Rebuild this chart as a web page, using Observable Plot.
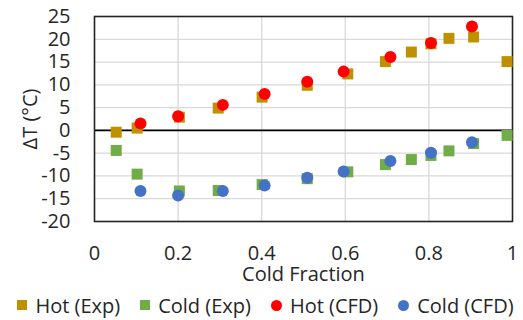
<!DOCTYPE html>
<html>
<head>
<meta charset="utf-8">
<script src="https://cdn.jsdelivr.net/npm/d3@7"></script>
<script src="https://cdn.jsdelivr.net/npm/@observablehq/plot@0.6"></script>
<style>
  html, body { margin: 0; padding: 0; background: #fff; }
  body { width: 523px; height: 320px; overflow: hidden; font-family: "Open Sans", sans-serif; color: #262626; }
  #legend { display: flex; justify-content: center; align-items: center; height: 30px; font-size: 20px; white-space: nowrap; padding-left: 8px; }
  .item { display: flex; align-items: center; margin: 0 10px; }
  .sw { display: inline-block; width: 10px; height: 10px; margin-right: 8px; }
  .circ { border-radius: 50%; width: 11px; height: 11px; }
</style>
</head>
<body>
<div id="chart"></div>
<div id="legend"></div>
<script>
const seriesNames = ["Hot (Exp)", "Cold (Exp)", "Hot (CFD)", "Cold (CFD)"];
const seriesColors = ["#BF9000", "#70AD47", "#FF0000", "#4472C4"];

const hotExpX = [0.052, 0.102, 0.203, 0.296, 0.401, 0.509, 0.606, 0.696, 0.758, 0.805, 0.848, 0.907, 0.987];
const hotExpY = [-0.4, 0.5, 2.9, 4.9, 7.3, 9.9, 12.4, 15.1, 17.2, 19.0, 20.2, 20.5, 15.1];

const coldExpX = [0.052, 0.102, 0.203, 0.296, 0.401, 0.509, 0.606, 0.696, 0.758, 0.805, 0.848, 0.907, 0.987];
const coldExpY = [-4.4, -9.6, -13.3, -13.2, -11.9, -10.6, -9.1, -7.5, -6.4, -5.5, -4.5, -2.9, -1.1];

const hotCfdX = [0.110, 0.200, 0.307, 0.407, 0.509, 0.596, 0.708, 0.805, 0.903];
const hotCfdY = [1.5, 3.1, 5.6, 8.0, 10.7, 12.9, 16.1, 19.2, 22.8];

const coldCfdX = [0.110, 0.200, 0.307, 0.407, 0.509, 0.596, 0.708, 0.805, 0.903];
const coldCfdY = [-13.3, -14.3, -13.3, -12.1, -10.4, -9.0, -6.7, -4.9, -2.6];

const xTicks = [0, 0.2, 0.4, 0.6, 0.8, 1];
const yTicks = [-20, -15, -10, -5, 0, 5, 10, 15, 20, 25];
const xTitle = "Cold Fraction";
const yTitle = "ΔT (°C)";

const pts = (xs, ys) => xs.map((x, i) => ({x, y: ys[i]}));
const hotExp = pts(hotExpX, hotExpY);
const coldExp = pts(coldExpX, coldExpY);
const hotCfd = pts(hotCfdX, hotCfdY);
const coldCfd = pts(coldCfdX, coldCfdY);

const chart = Plot.plot({
  width: 523,
  height: 290,
  marginTop: 16,
  marginBottom: 69,
  marginLeft: 94,
  marginRight: 11,
  style: { fontFamily: "Open Sans, sans-serif", fontSize: "20px", color: "#262626", background: "#fff" },
  x: { domain: [0, 1] },
  y: { domain: [-20, 25] },
  marks: [
    Plot.gridX(xTicks.slice(1, -1), { stroke: "#D9D9D9", strokeOpacity: 1, strokeWidth: 1.3 }),
    Plot.gridY(yTicks.slice(1, -1), { stroke: "#D9D9D9", strokeOpacity: 1, strokeWidth: 1.3 }),
    Plot.ruleY([0], { stroke: "#000", strokeWidth: 1.6 }),
    Plot.frame({ stroke: "#222", strokeWidth: 1.6 }),
    Plot.axisX(xTicks, { tickSize: 0, tickPadding: 24, label: null, fontSize: 20, tickFormat: d => String(d) }),
    Plot.axisY(yTicks, { tickSize: 0, tickPadding: 24, label: null, fontSize: 20, tickFormat: d => String(d) }),
    Plot.text([xTitle], { frameAnchor: "bottom", lineAnchor: "middle", dy: 53, text: d => d, fontSize: 20 }),
    Plot.text([yTitle], { frameAnchor: "left", textAnchor: "middle", lineAnchor: "middle", dx: -64, rotate: -90, text: d => d, fontSize: 20 }),
    Plot.dot(hotExp, { x: "x", y: "y", symbol: "square", r: 6.2, fill: seriesColors[0] }),
    Plot.dot(coldExp, { x: "x", y: "y", symbol: "square", r: 6.2, fill: seriesColors[1] }),
    Plot.dot(hotCfd, { x: "x", y: "y", symbol: "circle", r: 6, fill: seriesColors[2] }),
    Plot.dot(coldCfd, { x: "x", y: "y", symbol: "circle", r: 6, fill: seriesColors[3] })
  ]
});
document.getElementById("chart").appendChild(chart);

const legend = document.getElementById("legend");
seriesNames.forEach((name, i) => {
  const item = document.createElement("span");
  item.className = "item";
  const sw = document.createElement("span");
  sw.className = "sw" + (i >= 2 ? " circ" : "");
  sw.style.background = seriesColors[i];
  item.appendChild(sw);
  item.appendChild(document.createTextNode(name));
  legend.appendChild(item);
});
</script>
</body>
</html>
